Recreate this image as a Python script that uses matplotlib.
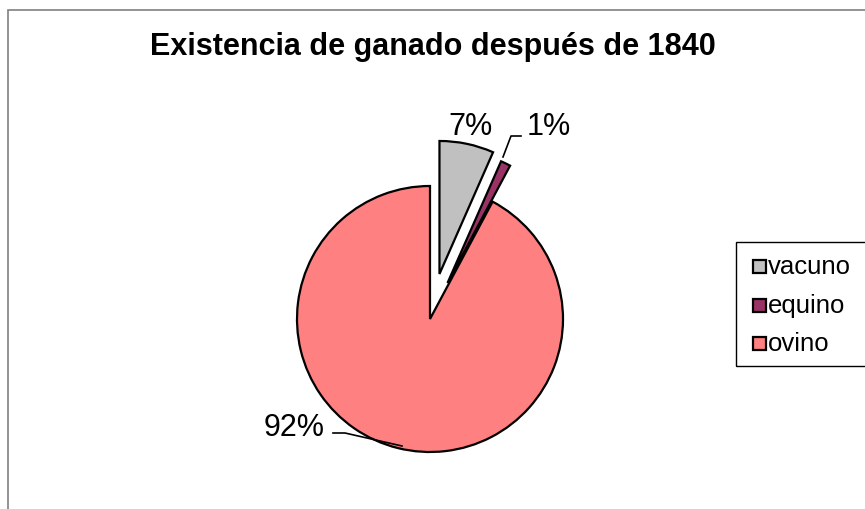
import numpy as np
import matplotlib.pyplot as plt
from matplotlib.patches import Rectangle

plt.rcParams['font.family'] = ['Liberation Sans', 'DejaVu Sans']

categories = ["vacuno", "equino", "ovino"]
values = [6.6, 1.2, 92.2]
explode = [46, 40, 0]   # in pixels (pie radius is in pixels too)
colors = ["#C0C0C0", "#993366", "#FF8080"]
title = "Existencia de ganado después de 1840"

W, H = 865, 510
fig = plt.figure(figsize=(W / 100, H / 100), dpi=100)
ax = fig.add_axes([0, 0, 1, 1])

cx, cy, r = 430, H - 320, 133
wedges, _ = ax.pie(values, explode=explode, colors=colors, startangle=90,
                   counterclock=False, center=(cx, cy), radius=r,
                   wedgeprops=dict(edgecolor="black", linewidth=1.6))

ax.set_xlim(0, W)
ax.set_ylim(0, H)
ax.set_aspect("equal")
ax.axis("off")

# chart frame (extends beyond the crop)
ax.add_patch(Rectangle((8, -20), W + 20, H - 11 + 20, fill=False,
                       edgecolor="#808080", linewidth=1.2))

ax.text(433, H - 47, title, ha="center", va="center", fontsize=22,
        fontweight="bold")

pct = [f"{round(v / sum(values) * 100)}%" for v in values]
ax.text(470, H - 127, pct[0], ha="center", va="center", fontsize=22)
ax.text(527, H - 127, pct[1], ha="left", va="center", fontsize=22)
ax.plot([503, 511, 521], [H - 158, H - 137, H - 137], color="black", lw=1.2)
ax.text(325, H - 428, pct[2], ha="right", va="center", fontsize=22)
ax.plot([333, 345, 402], [H - 434, H - 434, H - 447], color="black", lw=1.2)

# legend
ax.add_patch(Rectangle((736, H - 367), 140, 124, fill=False,
                       edgecolor="black", linewidth=1.0))
for i, (name, c) in enumerate(zip(categories, colors)):
    y = H - (267 + i * 38.5)
    ax.add_patch(Rectangle((753, y - 7), 13, 13, facecolor=c,
                           edgecolor="black", linewidth=1.6))
    ax.text(768, y, name, ha="left", va="center", fontsize=18.5)

fig.savefig("out.png", dpi=100)
